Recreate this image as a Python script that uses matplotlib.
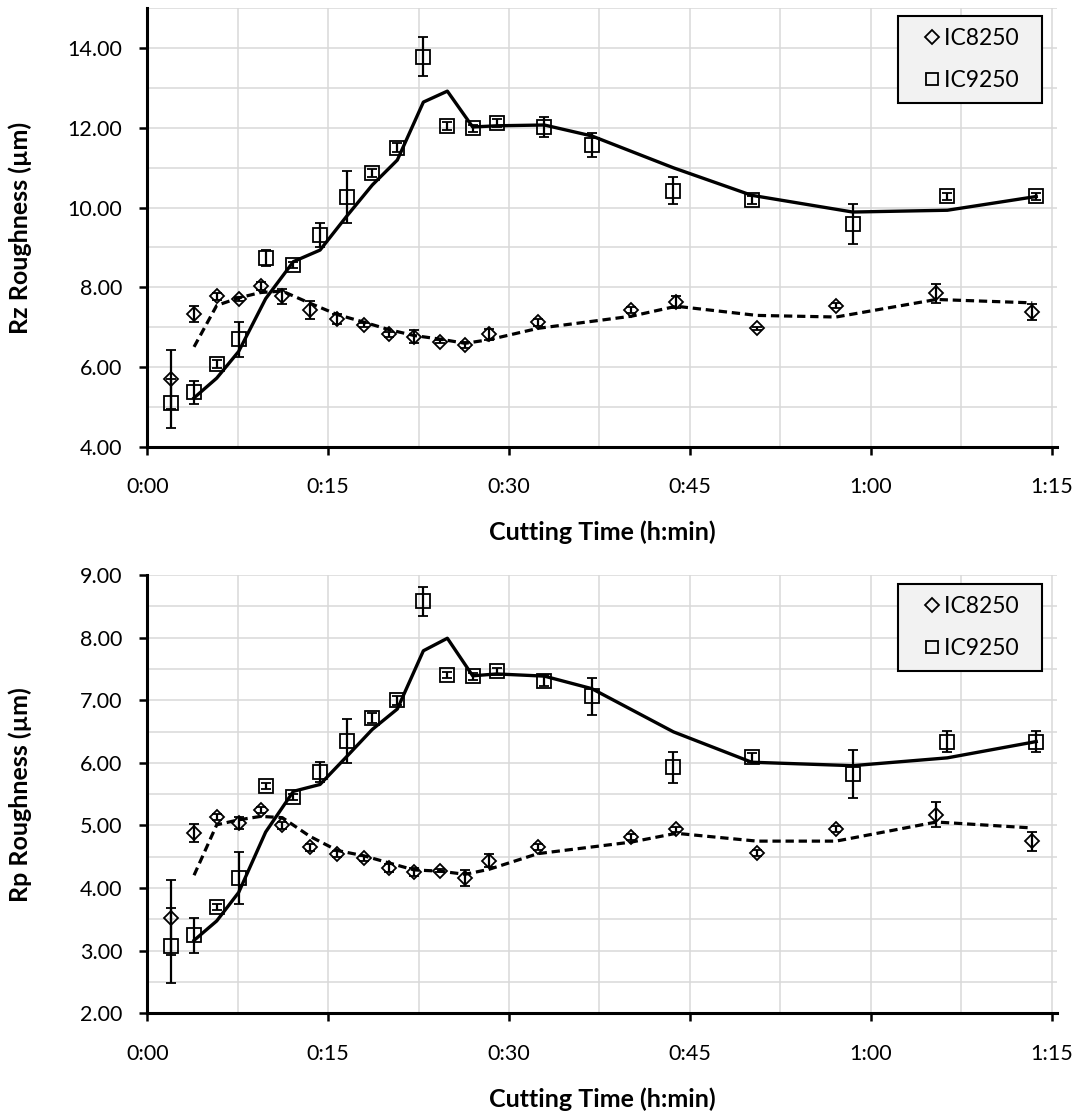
import matplotlib
matplotlib.use("Agg")
import matplotlib.pyplot as plt
from matplotlib.lines import Line2D
from matplotlib.ticker import MultipleLocator, FuncFormatter
import numpy as np

plt.rcParams['font.family'] = ['Lato', 'DejaVu Sans']

# cutting time in minutes
t_ic8250 = [1.97, 3.88, 5.76, 7.58, 9.41, 11.20, 13.50, 15.77, 17.98, 20.08, 22.13,
            24.28, 26.36, 28.35, 32.4, 40.16, 43.87, 50.56, 57.13, 65.44, 73.4]
t_ic9250 = [1.97, 3.88, 5.76, 7.58, 9.82, 12.12, 14.33, 16.54, 18.67, 20.74, 22.90,
            24.89, 26.99, 28.98, 32.93, 36.87, 43.64, 50.13, 58.5, 66.36, 73.73]

# Rz roughness (um)
rz_ic8250 = [5.69, 7.32, 7.77, 7.70, 8.04, 7.77, 7.43, 7.20, 7.05, 6.82, 6.76,
             6.64, 6.55, 6.82, 7.12, 7.43, 7.62, 6.97, 7.54, 7.85, 7.37]
rz_ic8250_err = [0.74, 0.2, 0.1, 0.05, 0.1, 0.2, 0.22, 0.12, 0.05, 0.07, 0.17,
                 0.05, 0.08, 0.14, 0.08, 0.08, 0.15, 0.04, 0.06, 0.24, 0.2]
rz_ic9250 = [5.09, 5.36, 6.08, 6.70, 8.73, 8.56, 9.31, 10.26, 10.88, 11.51, 13.79,
             12.06, 11.99, 12.12, 12.03, 11.57, 10.43, 10.19, 9.59, 10.28, 10.28]
rz_ic9250_err = [0.61, 0.3, 0.1, 0.44, 0.2, 0.08, 0.3, 0.65, 0.1, 0.12, 0.49,
                 0.1, 0.08, 0.1, 0.25, 0.3, 0.35, 0.1, 0.5, 0.1, 0.1]

# Rp roughness (um)
rp_ic8250 = [3.53, 4.88, 5.14, 5.04, 5.25, 5.00, 4.65, 4.55, 4.48, 4.32, 4.26,
             4.28, 4.16, 4.44, 4.66, 4.81, 4.94, 4.56, 4.94, 5.17, 4.75]
rp_ic8250_err = [0.6, 0.15, 0.05, 0.1, 0.05, 0.05, 0.06, 0.05, 0.04, 0.06, 0.06,
                 0.03, 0.13, 0.1, 0.05, 0.05, 0.04, 0.05, 0.05, 0.2, 0.15]
rp_ic9250 = [3.08, 3.25, 3.70, 4.16, 5.63, 5.46, 5.85, 6.35, 6.72, 7.00, 8.58,
             7.40, 7.38, 7.46, 7.31, 7.06, 5.93, 6.09, 5.82, 6.34, 6.34]
rp_ic9250_err = [0.6, 0.28, 0.05, 0.42, 0.05, 0.05, 0.16, 0.35, 0.08, 0.07, 0.23,
                 0.05, 0.05, 0.06, 0.09, 0.3, 0.25, 0.07, 0.38, 0.17, 0.17]


def moving_avg(t, y):
    # 2-period moving average trendline (Excel style)
    y = np.asarray(y)
    return np.asarray(t)[1:], (y[:-1] + y[1:]) / 2


def hmm(x, pos):
    return "%d:%02d" % (int(x) // 60, int(round(x)) % 60)


def draw_panel(ax, y8, e8, y9, e9, ylim, major, minor, ylabel, legend_top):
    mk = dict(mfc="none", mec="black", mew=1.3, ecolor="black", elinewidth=1.6,
              capsize=3.8, capthick=1.6, ls="none", zorder=4)
    ax.errorbar(t_ic8250, y8, yerr=e8, marker="D", ms=7.5, **mk)
    ax.errorbar(t_ic9250, y9, yerr=e9, marker="s", ms=9.5, **mk)

    tx, ty = moving_avg(t_ic8250, y8)
    ax.plot(tx, ty, color="black", lw=2.3, ls=(0, (2.6, 1.5)), zorder=3)
    tx, ty = moving_avg(t_ic9250, y9)
    ax.plot(tx, ty, color="black", lw=2.4, ls="-", zorder=3)

    ax.set_xlim(0, 75.45)
    ax.set_ylim(*ylim)
    ax.xaxis.set_major_locator(MultipleLocator(15))
    ax.xaxis.set_minor_locator(MultipleLocator(7.5))
    ax.xaxis.set_major_formatter(FuncFormatter(hmm))
    ax.yaxis.set_major_locator(MultipleLocator(major))
    ax.yaxis.set_minor_locator(MultipleLocator(minor))
    ax.yaxis.set_major_formatter(FuncFormatter(lambda v, p: "%.2f" % v))

    ax.grid(True, which="both", color="#d9d9d9", lw=1.1, zorder=0)
    ax.set_axisbelow(True)
    for s in ["top", "right"]:
        ax.spines[s].set_visible(False)
    for s in ["left", "bottom"]:
        ax.spines[s].set_linewidth(2.2)
        ax.spines[s].set_zorder(5)
    ax.tick_params(which="major", direction="out", length=6, width=1.8,
                   labelsize=15.5, colors="black")
    ax.tick_params(axis="x", which="major", pad=16)
    ax.tick_params(axis="y", which="major", pad=12)
    ax.tick_params(which="minor", length=0)

    ax.set_ylabel(ylabel, fontsize=18, fontweight="bold")
    ax.yaxis.set_label_coords(-0.127, 0.5)
    ax.set_xlabel("Cutting Time (h:min)", fontsize=18, fontweight="bold", labelpad=17)

    handles = [
        Line2D([], [], marker="D", ls="none", mfc="none", mec="black", mew=1.3, ms=7),
        Line2D([], [], marker="s", ls="none", mfc="none", mec="black", mew=1.3, ms=9),
    ]
    leg = ax.legend(handles, ["IC8250  ", "IC9250  "], loc="upper right",
                    bbox_to_anchor=(0.9838, legend_top), borderaxespad=0,
                    fontsize=16.5, frameon=True, fancybox=False, framealpha=1,
                    facecolor="#f2f2f2", edgecolor="black", handlelength=2.0,
                    handletextpad=-0.5, labelspacing=0.94, borderpad=0.52)
    leg.get_frame().set_linewidth(1.5)
    leg.set_zorder(6)


fig = plt.figure(figsize=(10.78, 11.15), dpi=100)
ax1 = fig.add_axes([0.1366, 0.5994, 0.8439, 0.3930])
ax2 = fig.add_axes([0.1366, 0.0912, 0.8439, 0.3931])

draw_panel(ax1, rz_ic8250, rz_ic8250_err, rz_ic9250, rz_ic9250_err,
           (4, 15), 2, 1, "Rz Roughness (µm)", 0.983)
draw_panel(ax2, rp_ic8250, rp_ic8250_err, rp_ic9250, rp_ic9250_err,
           (2, 9), 1, 0.5, "Rp Roughness (µm)", 0.9795)

plt.savefig("out.png", dpi=100)
